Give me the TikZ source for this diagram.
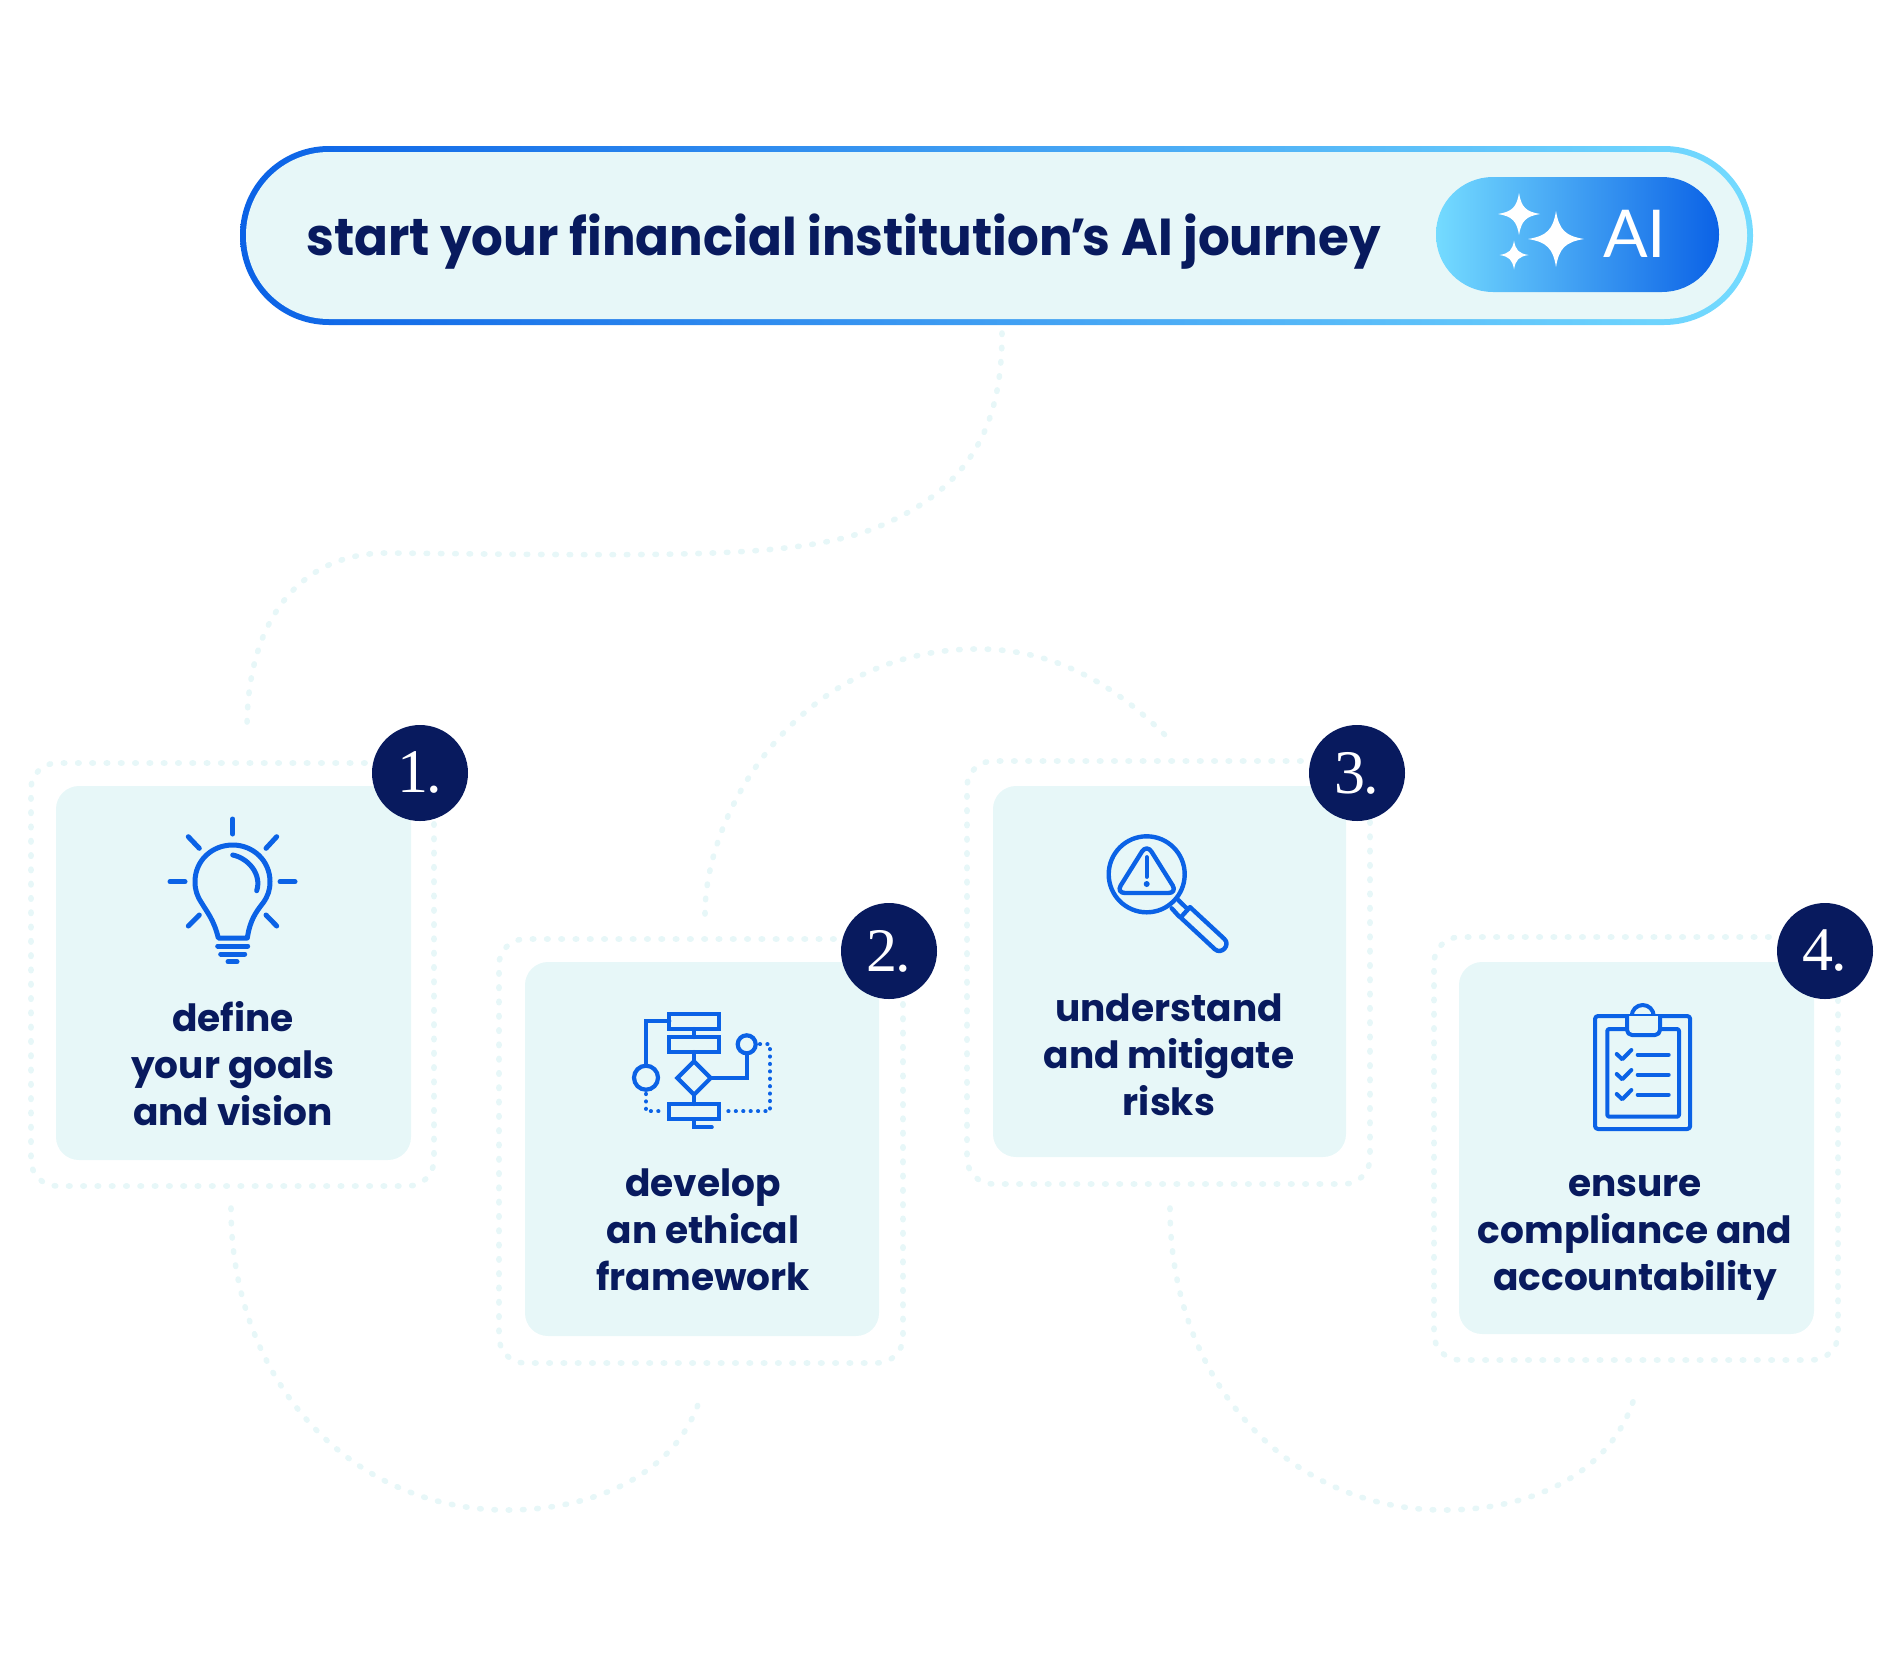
\documentclass[tikz,border=0pt]{standalone}
\usepackage{fontspec}
\newfontfamily\hd{Poppins}
\newfontfamily\lat{Lato}
\newfontfamily\numf{Liberation Serif}
\definecolor{navy}{HTML}{081A5E}
\definecolor{ice}{HTML}{E7F7F8}
\definecolor{bluei}{HTML}{0B62E6}
\definecolor{sky}{HTML}{74DBFF}
\tikzset{
  dots/.style={draw=ice,line width=5.6pt,line cap=round,dash pattern=on 1.5pt off 12.8pt},
  framebox/.style={dots,rectangle,rounded corners=26pt,inner sep=0pt,outer sep=0pt},
  cardbox/.style={rectangle,fill=ice,rounded corners=23pt,inner sep=0pt,outer sep=0pt},
  badge/.style={circle,fill=navy,text=white,minimum size=96pt,inner sep=0pt,font=\numf\fontsize{62}{62}\selectfont},
  cardtxt/.style={align=center,anchor=base,inner sep=0pt,text=navy,font=\hd\bfseries\fontsize{37.5}{47}\selectfont},
  ico/.style={draw=bluei,line width=5pt,line cap=round,line join=round},
  icm/.style={ico,line width=4.4pt},
  icc/.style={ico,line width=4pt},
  icf/.style={draw=bluei,line width=4.2pt,line cap=round,line join=miter},
  icd/.style={draw=bluei,line width=4.2pt,line cap=round,dash pattern=on 0.01pt off 7.4pt}
}
\newcommand\sparkle[3]{\fill[white,shift={(#1,#2)},x=#3pt,y=#3pt] (0,-1) .. controls (.11,-.33) and (.33,-.11) .. (1,0) .. controls (.33,.11) and (.11,.33) .. (0,1) .. controls (-.11,.33) and (-.33,.11) .. (-1,0) .. controls (-.33,-.11) and (-.11,-.33) .. (0,-1) -- cycle;}
\begin{document}
\begin{tikzpicture}[x=1pt,y=-1pt]
\useasboundingbox (0,0) rectangle (1900,1660);
% decorative dotted routes
\coordinate (a1) at (1002,333); \coordinate (a2) at (870,530); \coordinate (a3) at (487,554); \coordinate (a4) at (387,553); \coordinate (a5) at (247,728);
\draw[dots] (a1) .. controls (1002,420) and (975,490) .. (a2) .. controls (800,555) and (700,556) .. (a3) -- (a4) .. controls (300,553) and (247,620) .. (a5);
\coordinate (b1) at (705,914); \coordinate (b2) at (978,649); \coordinate (b3) at (1167,737);
\draw[dots] (b1) .. controls (705,810) and (800,649) .. (b2) .. controls (1060,649) and (1120,690) .. (b3);
\coordinate (c1) at (231,1208); \coordinate (c2) at (507,1510); \coordinate (c3) at (701,1395);
\draw[dots] (c1) .. controls (231,1380) and (350,1510) .. (c2) .. controls (600,1510) and (680,1470) .. (c3);
\coordinate (d1) at (1170,1208); \coordinate (d2) at (1444,1510); \coordinate (d3) at (1636,1392);
\draw[dots] (d1) .. controls (1170,1380) and (1287,1510) .. (d2) .. controls (1537,1510) and (1615,1470) .. (d3);
% title pill
\node[rectangle,rounded corners=89pt,minimum width=1513pt,minimum height=179pt,inner sep=0pt,left color=bluei,right color=sky] (pill) at (996.5,235.5) {};
\node[rectangle,rounded corners=83pt,minimum width=1501pt,minimum height=167pt,inner sep=0pt,fill=ice] (pillin) at (996.5,235.5) {};
\node[anchor=base west,inner sep=0pt,text=navy,font=\hd\bfseries\fontsize{52}{60}\selectfont] (title) at (306,255) {\scalebox{.96}[1]{start your financial institution\kern-3pt’\kern-3pt s AI journey}};
\node[rectangle,rounded corners=57pt,minimum width=283pt,minimum height=115pt,inner sep=0pt,left color=sky,right color=bluei] (aipill) at (1577.5,234.5) {};
\sparkle{1556}{239}{28}
\sparkle{1519}{214}{21}
\sparkle{1514}{255}{14.5}
\node[anchor=base west,inner sep=0pt,text=white,font=\lat\fontsize{66}{66}\selectfont] (ai) at (1603,257) {AI};
% frames and cards
\node[framebox,minimum width=403pt,minimum height=423pt] (f1) at (232.5,974.5) {};
\node[framebox,minimum width=404pt,minimum height=424pt] (f2) at (701,1151) {};
\node[framebox,minimum width=403pt,minimum height=423pt] (f3) at (1168.5,972.5) {};
\node[framebox,minimum width=404pt,minimum height=423pt] (f4) at (1636,1148.5) {};
\node[cardbox,minimum width=355pt,minimum height=374pt] (k1) at (233.5,973) {};
\node[cardbox,minimum width=354pt,minimum height=374pt] (k2) at (702,1149) {};
\node[cardbox,minimum width=353pt,minimum height=371pt] (k3) at (1169.5,971.5) {};
\node[cardbox,minimum width=355pt,minimum height=372pt] (k4) at (1636.5,1148) {};
% bulb
\draw[ico] (218.3,938) .. controls (214,920) and (207,912) .. (201.7,903) .. controls (197,896) and (195,890) .. (195,881.7) .. controls (195,860.5) and (212,845) .. (232.7,845) .. controls (253,845) and (270,860.5) .. (270,881.7) .. controls (270,890) and (268,896) .. (263,903) .. controls (256,912) and (250,920) .. (247.3,938) -- cycle;
\draw[ico] (232.7,855) .. controls (248,858) and (262,874) .. (256.7,890.7);
\draw[ico] (232.7,819) -- (232.7,834);
\draw[ico] (170,881.7) -- (185,881.7);
\draw[ico] (280,881.7) -- (295,881.7);
\draw[ico] (188.3,836.7) -- (199.3,848.3);
\draw[ico] (276.7,836.7) -- (266,848.3);
\draw[ico] (199.3,915) -- (188.3,926);
\draw[ico] (266,915) -- (276.7,926);
\draw[ico] (217.7,946) -- (247.7,946);
\draw[ico] (220.7,954) -- (244.7,954);
\draw[ico] (228,961.7) -- (237,961.7);
% flowchart
\draw[icf] (669.3,1014) rectangle (719.3,1029);
\draw[icf] (669.3,1037) rectangle (719.3,1052);
\draw[icf] (669.3,1104) rectangle (719.3,1119.3);
\draw[icf] (694,1029) -- (694,1037);
\draw[icf] (694,1052) -- (694,1061.3);
\draw[icf] (694,1061.3) -- (710.7,1078) -- (694,1094.7) -- (677.3,1078) -- cycle;
\draw[icf] (694,1094.7) -- (694,1104);
\draw[icf] (694,1119.3) -- (694,1127.3) -- (711.7,1127.3);
\draw[icf] (669.3,1021) -- (646,1021) -- (646,1065.5);
\draw[icf] (646,1077.7) circle[radius=12pt];
\draw[icf] (746.7,1044.3) circle[radius=9pt];
\draw[icf] (710.7,1078) -- (746.7,1078) -- (746.7,1053.3);
\draw[icd] (760,1044.3) -- (770,1044.3) -- (770,1111.3) -- (724,1111.3);
\draw[icd] (646,1094) -- (646,1111.3) -- (665,1111.3);
% magnifier
\draw[icm] (1146.7,874.3) circle[radius=38pt];
\draw[icm,rounded corners=9pt] (1146.7,844) -- (1177.4,893) -- (1116,893) -- cycle;
\draw[icm] (1146.7,857.3) -- (1146.7,876.7);
\fill[bluei] (1146.7,884) circle[radius=3pt];
\draw[icm] (1171.7,908.3) -- (1179.3,916.7);
\draw[icm] (1178.3,900) -- (1186.7,908.3);
\draw[icm] (1190,907.1) -- (1224.2,938.8) .. controls (1230.9,944.8) and (1221.5,955.2) .. (1214.8,949.2) -- (1180.6,917.5) -- cycle;
% clipboard
\draw[icc,rounded corners=3pt] (1595,1016) rectangle (1690.2,1129);
\draw[icc,rounded corners=2pt] (1607.3,1029) rectangle (1679,1116.7);
\draw[icc] (1631.7,1016) arc[start angle=180,end angle=0,radius=11pt];
\draw[icc,fill=ice,rounded corners=5pt] (1627,1016) -- (1627,1035) -- (1660,1035) -- (1660,1016);
\draw[icc] (1616.7,1054) -- (1622.3,1059.3) -- (1631.3,1050);
\draw[icc] (1616.7,1074) -- (1622.3,1079.3) -- (1631.3,1070);
\draw[icc] (1616.7,1094) -- (1622.3,1099.3) -- (1631.3,1090);
\draw[icc] (1637.7,1054.7) -- (1668.7,1054.7);
\draw[icc] (1637.7,1074.7) -- (1668.7,1074.7);
\draw[icc] (1637.7,1094.7) -- (1668.7,1094.7);
% texts
\node[cardtxt] (t1) at (233,1125) {define\\your goals\\and vision};
\node[cardtxt] (t2) at (703,1290) {develop\hspace{8pt}\\an ethical\\framework};
\node[cardtxt] (t3) at (1169,1115) {understand\\and mitigate\\risks};
\node[cardtxt] (t4) at (1635,1290) {ensure\hspace{8pt}\\compliance and\\accountability};
% badges
\node[badge] (n1) at (420,773) {\raisebox{1pt}{1\kern-2pt.}};
\node[badge] (n2) at (889,951) {\raisebox{1pt}{2\kern-2pt.}};
\node[badge] (n3) at (1357,773) {\raisebox{1pt}{3\kern-2pt.}};
\node[badge] (n4) at (1825,951) {\raisebox{1pt}{4\kern-2pt.}};
\end{tikzpicture}
\end{document}
